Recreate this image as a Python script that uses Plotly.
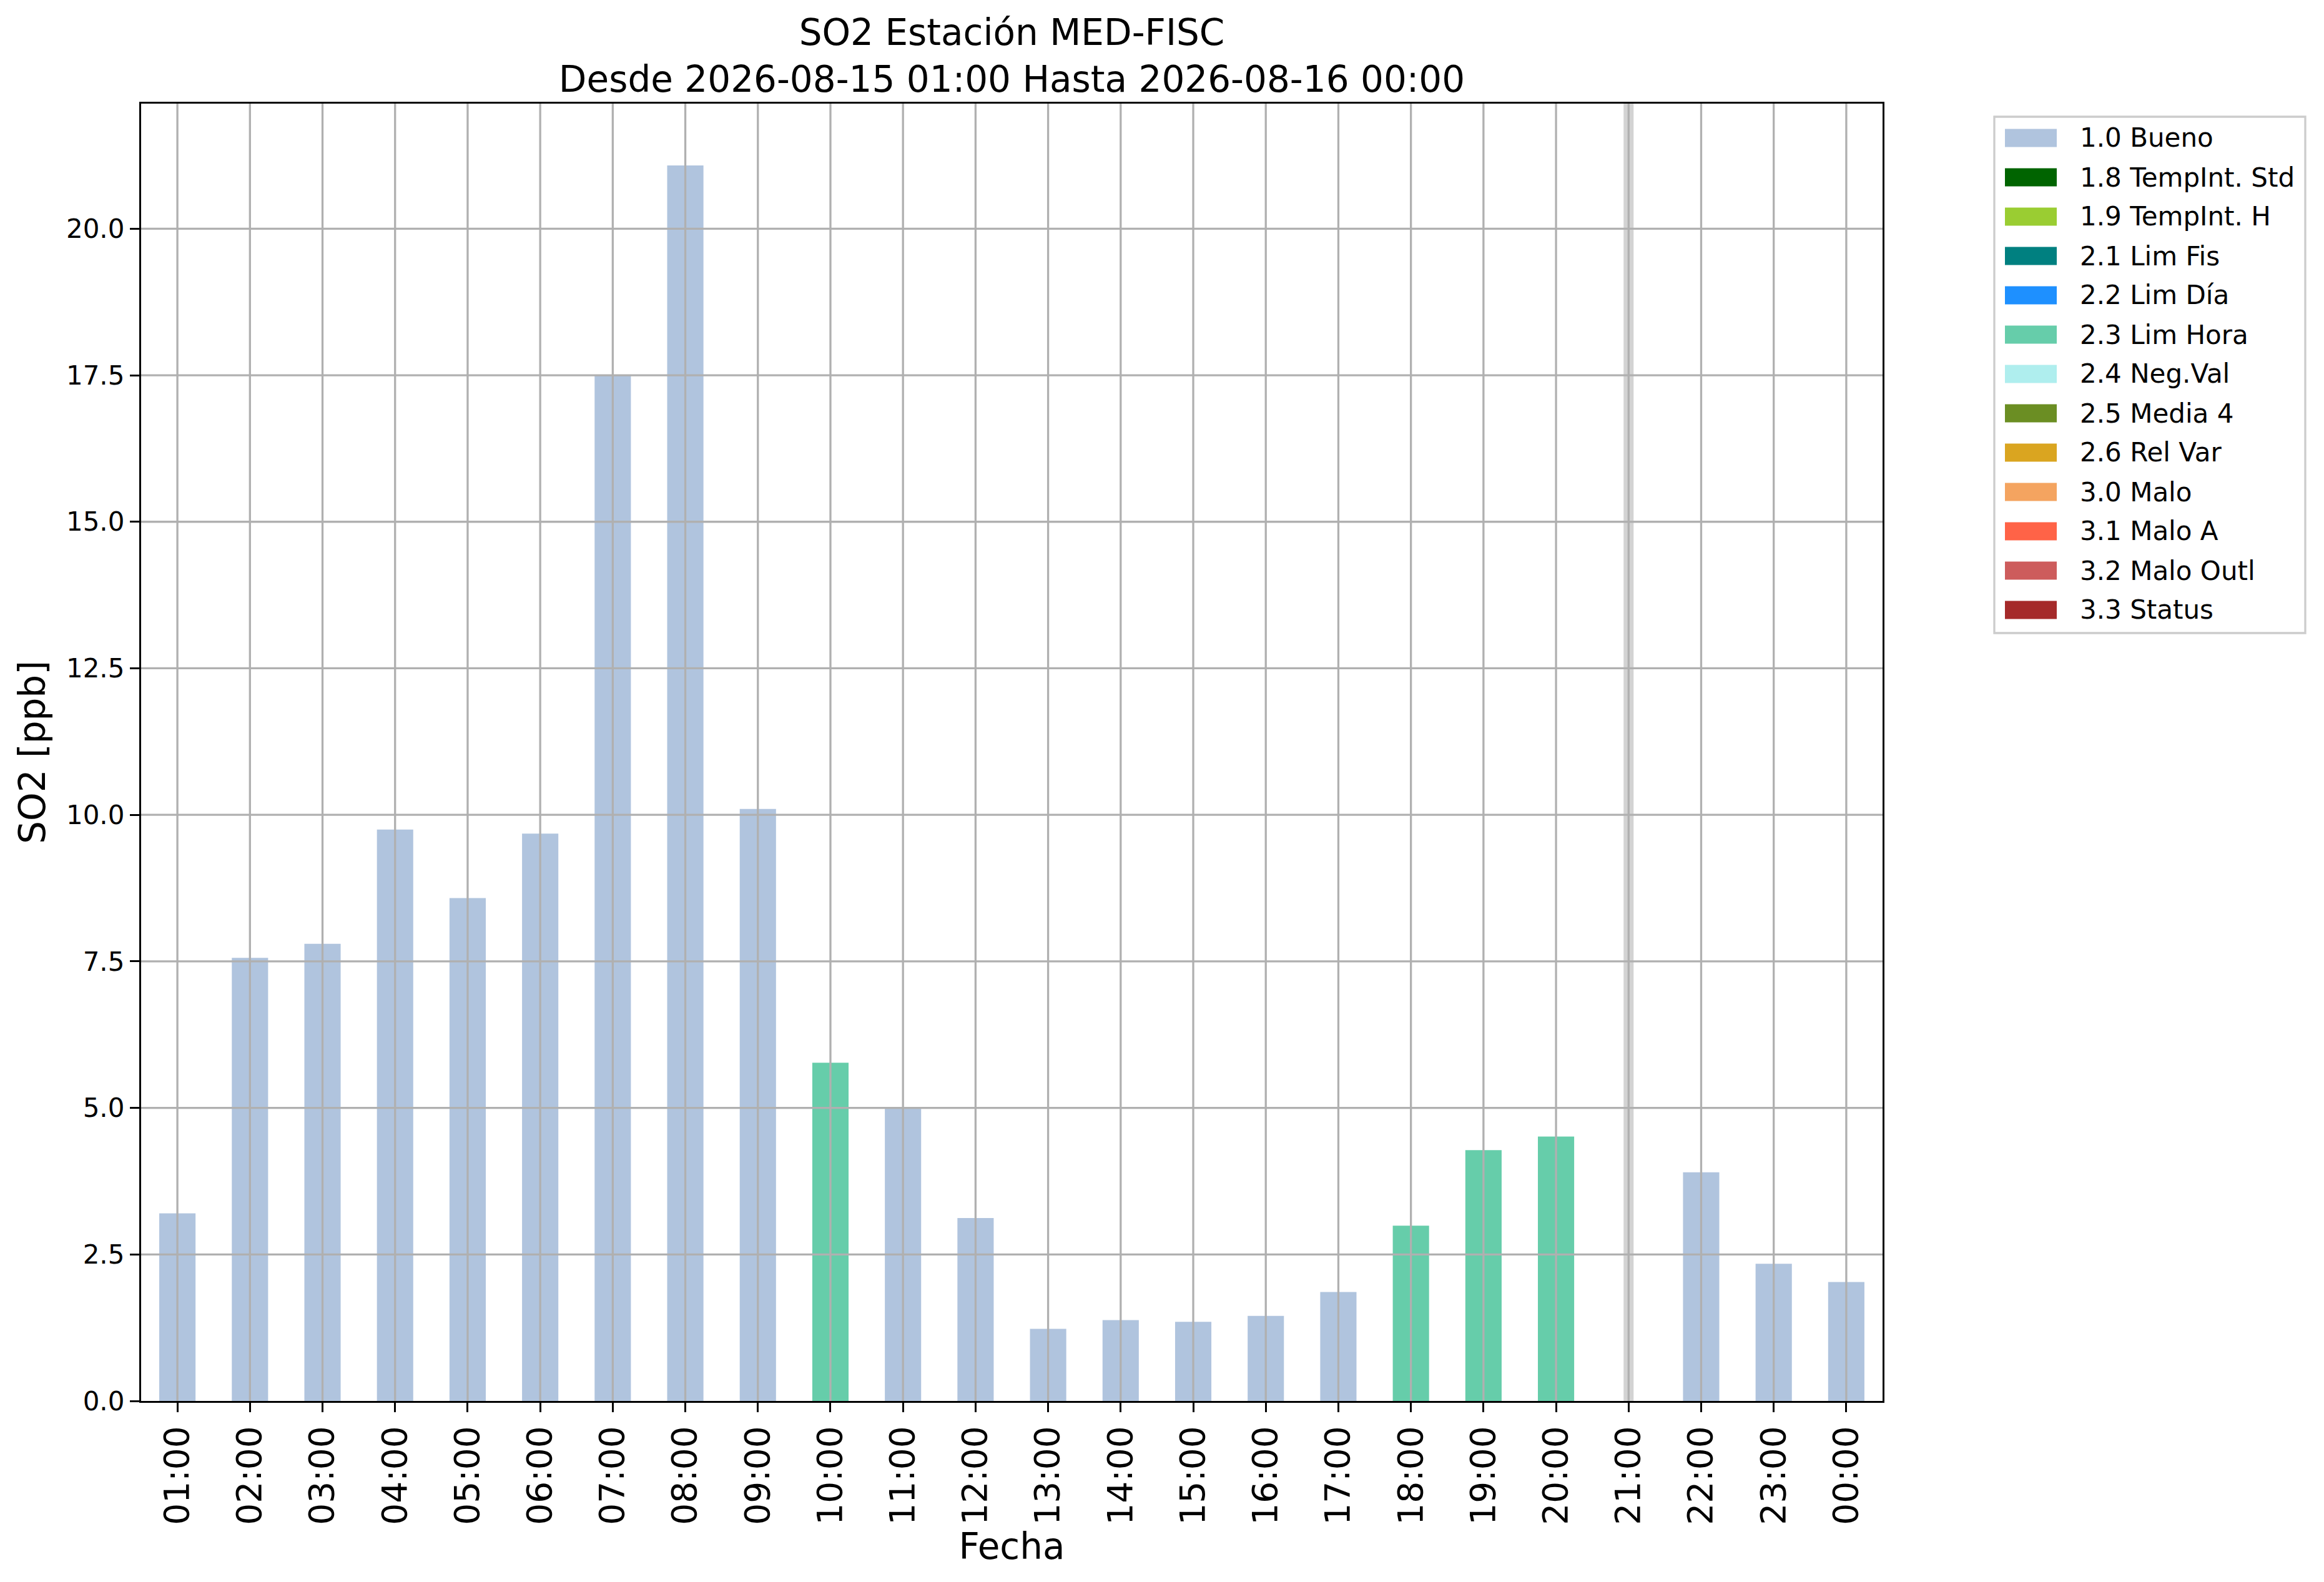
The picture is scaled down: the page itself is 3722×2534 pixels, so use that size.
import plotly.graph_objects as go

# hourly SO2 values (None = missing hour)
hours = ["01:00", "02:00", "03:00", "04:00", "05:00", "06:00", "07:00", "08:00",
         "09:00", "10:00", "11:00", "12:00", "13:00", "14:00", "15:00", "16:00",
         "17:00", "18:00", "19:00", "20:00", "21:00", "22:00", "23:00", "00:00"]
so2 = [3.20, 7.56, 7.80, 9.75, 8.58, 9.68, 17.49, 21.08,
       10.10, 5.77, 4.99, 3.12, 1.23, 1.38, 1.35, 1.45,
       1.86, 2.99, 4.28, 4.51, None, 3.90, 2.34, 2.03]
flags = ["1.0", "1.0", "1.0", "1.0", "1.0", "1.0", "1.0", "1.0",
         "1.0", "2.3", "1.0", "1.0", "1.0", "1.0", "1.0", "1.0",
         "1.0", "2.3", "2.3", "2.3", None, "1.0", "1.0", "1.0"]

flag_codes = ["1.0", "1.8", "1.9", "2.1", "2.2", "2.3", "2.4", "2.5", "2.6",
              "3.0", "3.1", "3.2", "3.3"]
flag_names = ["1.0 Bueno", "1.8 TempInt. Std", "1.9 TempInt. H", "2.1 Lim Fis",
              "2.2 Lim Día", "2.3 Lim Hora", "2.4 Neg.Val", "2.5 Media 4",
              "2.6 Rel Var", "3.0 Malo", "3.1 Malo A", "3.2 Malo Outl", "3.3 Status"]
flag_colors = ["#B0C4DE", "#006400", "#9ACD32", "#008080", "#1E90FF", "#66CDAA",
               "#AFEEEE", "#6B8E23", "#DAA520", "#F4A460", "#FF6347", "#CD5C5C",
               "#A52A2A"]

yticks = [0.0, 2.5, 5.0, 7.5, 10.0, 12.5, 15.0, 17.5, 20.0]

# canvas geometry (pixels)
W, H = 3722, 2534
ML, MR, MT, MB = 226, 707, 166, 290
PW, PH = W - ML - MR, H - MT - MB
FONT = "DejaVu Sans"


def px_x(p):
    return (p - ML) / PW


def px_y(p):
    return (H - MB - p) / PH


fig = go.Figure()

for code, name, color in zip(flag_codes, flag_names, flag_colors):
    ys = [v if f == code else None for v, f in zip(so2, flags)]
    if all(v is None for v in ys):
        continue
    fig.add_trace(go.Bar(x=hours, y=ys, name=name, marker_color=color,
                         marker_line_width=0, width=0.5, showlegend=False))

shapes = []
# missing hours marked with a light gray vertical line
for h, v in zip(hours, so2):
    if v is None:
        shapes.append(dict(type="line", xref="x", yref="paper", x0=h, x1=h, y0=0, y1=1,
                           line=dict(color="#d3d3d3", width=16), layer="above"))
# grid drawn above the bars, as in the original
for h in hours:
    shapes.append(dict(type="line", xref="x", yref="paper", x0=h, x1=h, y0=0, y1=1,
                       line=dict(color="#b0b0b0", width=3.3), layer="above"))
for t in yticks[1:]:
    shapes.append(dict(type="line", xref="paper", yref="y", x0=0, x1=1, y0=t, y1=t,
                       line=dict(color="#b0b0b0", width=3.3), layer="above"))

# legend box with all quality flags
annotations = []
shapes.append(dict(type="rect", xref="paper", yref="paper",
                   x0=px_x(3194), x1=px_x(3692), y0=px_y(1014), y1=px_y(187),
                   line=dict(color="#cccccc", width=3.3), fillcolor="white"))
for i, (name, color) in enumerate(zip(flag_names, flag_colors)):
    cy = 221 + 63 * i
    shapes.append(dict(type="rect", xref="paper", yref="paper",
                       x0=px_x(3211), x1=px_x(3294), y0=px_y(cy + 14.5), y1=px_y(cy - 14.5),
                       line=dict(width=0), fillcolor=color))
    annotations.append(dict(text=name, xref="paper", yref="paper", x=px_x(3329), y=px_y(cy),
                            xanchor="left", yanchor="middle", showarrow=False,
                            font=dict(family=FONT, size=42, color="black")))

ymax = max(v for v in so2 if v is not None) * 1.05

fig.update_layout(
    width=W, height=H,
    margin=dict(l=ML, r=MR, t=MT, b=MB, autoexpand=False),
    paper_bgcolor="white", plot_bgcolor="white",
    barmode="overlay",
    font=dict(family=FONT, color="black"),
    title=dict(text="SO2 Estación MED-FISC<br>Desde 2026-08-15 01:00 Hasta 2026-08-16 00:00",
               x=0.5, xref="paper", xanchor="center",
               y=1 - 72 / H, yref="container", yanchor="bottom",
               font=dict(family=FONT, size=58, color="black")),
    xaxis=dict(type="category", range=[-0.5, len(hours) - 0.5],
               tickangle=-90, tickfont=dict(size=55),
               ticks="outside", ticklen=15, tickwidth=3.3, tickcolor="black",
               showline=True, linecolor="black", linewidth=3.3, mirror=True,
               showgrid=False,
               title=dict(text="Fecha", font=dict(size=58), standoff=10)),
    yaxis=dict(range=[0, ymax], tickvals=yticks, tickformat=".1f",
               tickfont=dict(size=42),
               ticks="outside", ticklen=15, tickwidth=3.3, tickcolor="black",
               showline=True, linecolor="black", linewidth=3.3, mirror=True,
               showgrid=False, zeroline=False,
               title=dict(text="SO2 [ppb]", font=dict(size=58), standoff=15)),
    shapes=shapes,
    annotations=annotations,
    showlegend=False,
)

fig.write_html("out.html", config={"displayModeBar": False},
               post_script="document.body.style.margin = '0';")
